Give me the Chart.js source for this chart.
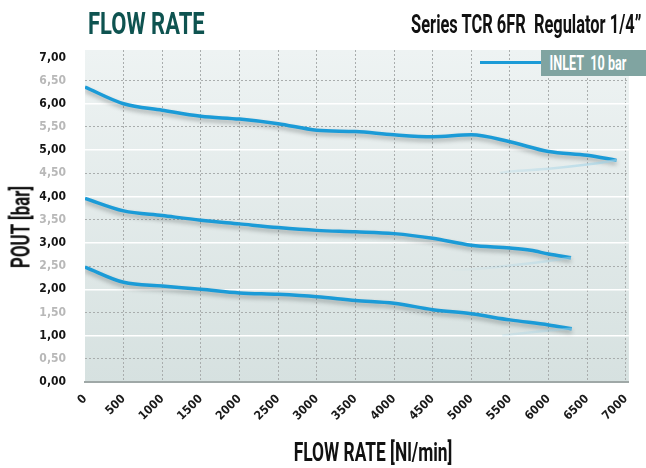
<!DOCTYPE html>
<html lang="en">
<head>
<meta charset="UTF-8">
<title>Flow rate - Series TCR 6FR Regulator 1/4"</title>
<script src="https://cdn.jsdelivr.net/npm/chart.js"></script>
<style>
  html, body { margin: 0; padding: 0; background: #fff; }
  .wrap { position: relative; width: 646px; height: 468px; overflow: hidden; }
  canvas { position: absolute; left: 0; top: 0; }
  .txt { position: absolute; font-family: Roboto, 'DejaVu Sans Condensed', sans-serif; font-weight: bold; white-space: nowrap; }
  #title { left: 88px; top: 8px; font-size: 31px; line-height: 31px; color: #0e5350; transform-origin: left top; }
  #subtitle { right: 5px; top: 12px; font-size: 25px; line-height: 25px; color: #111; transform-origin: right top; }
  #xTitle { left: 373px; top: 452px; font-size: 25px; line-height: 25px; color: #111; }
  #yTitle { left: 21px; top: 227px; font-size: 25px; line-height: 25px; color: #111; }
  #legLine { position: absolute; left: 480px; top: 61px; width: 61px; height: 3px; background: #1b9bd7; }
  #legBox { position: absolute; left: 541px; top: 50px; width: 105px; height: 26px; background: #80a4a1; }
  #legText { left: 588px; top: 63px; font-size: 20px; line-height: 20px; color: #fff; }
</style>
</head>
<body>
<div class="wrap">
  <canvas id="flowChart" width="646" height="468"></canvas>
  <div class="txt" id="title">FLOW RATE</div>
  <div class="txt" id="subtitle">Series TCR 6FR&nbsp; Regulator 1/4”</div>
  <div class="txt" id="xTitle">FLOW RATE [Nl/min]</div>
  <div class="txt" id="yTitle">POUT [bar]</div>
  <div id="legLine"></div>
  <div id="legBox"></div>
  <div class="txt" id="legText">INLET&nbsp; 10 bar</div>
</div>
<script>
// curves (flow in Nl/min, pressure in bar)
const flowTop = [0, 500, 1000, 1500, 2000, 2500, 3000, 3500, 4000, 4500, 5000, 5500, 6000, 6500, 6880];
const poutTop = [6.36, 6.00, 5.86, 5.73, 5.67, 5.57, 5.43, 5.40, 5.33, 5.29, 5.33, 5.18, 4.97, 4.89, 4.78];

const flowMid = [0, 500, 1000, 1500, 2000, 2500, 3000, 3500, 4000, 4500, 5000, 5500, 5770, 6000, 6290];
const poutMid = [3.96, 3.69, 3.59, 3.49, 3.41, 3.33, 3.27, 3.24, 3.20, 3.10, 2.95, 2.89, 2.84, 2.76, 2.68];

const flowLow = [0, 500, 1000, 1500, 2000, 2500, 3000, 3500, 4000, 4500, 5000, 5500, 6000, 6300];
const poutLow = [2.48, 2.15, 2.07, 2.00, 1.92, 1.89, 1.84, 1.76, 1.70, 1.56, 1.47, 1.34, 1.23, 1.15];

// faint return traces
const flowTopBack = [5370, 5500, 6000, 6500, 6880];
const poutTopBack = [4.51, 4.54, 4.60, 4.69, 4.78];
const flowMidBack = [4750, 5000, 5500, 6000, 6290];
const poutMidBack = [2.42, 2.43, 2.51, 2.61, 2.68];
const flowLowBack = [5400, 5500, 6000, 6300];
const poutLowBack = [1.00, 1.02, 1.11, 1.15];

// tick labels
const xTicks = [0, 500, 1000, 1500, 2000, 2500, 3000, 3500, 4000, 4500, 5000, 5500, 6000, 6500, 7000];
const yTicks = [0, 0.5, 1, 1.5, 2, 2.5, 3, 3.5, 4, 4.5, 5, 5.5, 6, 6.5, 7];
const yHalfTicks = [0.5, 1.5, 2.5, 3.5, 4.5, 5.5, 6.5];

const blue = '#1b9bd7';
const tickFont = "'DejaVu Sans Condensed', sans-serif";

// squeeze the html labels to the widths seen in the picture
function fitWidth(id, target, extra) {
    const el = document.getElementById(id);
    const k = target / el.offsetWidth;
    el.style.transform = (extra || '') + ' scaleX(' + k + ')';
}
fitWidth('title', 117);
fitWidth('subtitle', 230);
fitWidth('xTitle', 159, 'translate(-50%, -50%)');
fitWidth('yTitle', 82, 'translate(-50%, -50%) rotate(-90deg)');
fitWidth('legText', 77, 'translate(-50%, -50%)');

function pts(xs, ys) {
    return xs.map((x, i) => ({ x: x, y: ys[i] }));
}

function fadeStroke(context) {
    const chart = context.chart;
    if (!chart.chartArea) return 'rgba(150,205,228,0.4)';
    const xs = chart.scales.x;
    const g = chart.ctx.createLinearGradient(xs.getPixelForValue(4700), 0, xs.getPixelForValue(6900), 0);
    g.addColorStop(0, 'rgba(160,210,230,0)');
    g.addColorStop(1, 'rgba(160,210,230,0.7)');
    return g;
}

function mainSet(xs, ys) {
    return { data: pts(xs, ys), borderColor: blue, borderWidth: 3.5, pointRadius: 0,
             cubicInterpolationMode: 'monotone', shadow: true };
}
function backSet(xs, ys) {
    return { data: pts(xs, ys), borderColor: fadeStroke, borderWidth: 2.5, pointRadius: 0,
             cubicInterpolationMode: 'monotone' };
}

// panel background
const bgPlugin = {
    id: 'panelBg',
    beforeDraw(chart) {
        const a = chart.chartArea, ctx = chart.ctx;
        const g = ctx.createLinearGradient(0, a.top, 0, a.bottom);
        g.addColorStop(0, '#eef3f3');
        g.addColorStop(1, '#d6e1e0');
        ctx.save();
        ctx.fillStyle = g;
        ctx.fillRect(a.left, a.top, a.right - a.left, a.bottom - a.top);
        ctx.restore();
    }
};

// soft drop shadow under the blue curves
const shadowPlugin = {
    id: 'lineShadow',
    beforeDatasetDraw(chart, args) {
        if (!chart.data.datasets[args.index].shadow) return;
        const ctx = chart.ctx;
        ctx.save();
        ctx.shadowColor = 'rgba(40,50,50,0.35)';
        ctx.shadowBlur = 4;
        ctx.shadowOffsetY = 3;
    },
    afterDatasetDraw(chart, args) {
        if (!chart.data.datasets[args.index].shadow) return;
        chart.ctx.restore();
    }
};

new Chart(document.getElementById('flowChart'), {
    type: 'line',
    data: {
        datasets: [
            backSet(flowTopBack, poutTopBack),
            backSet(flowMidBack, poutMidBack),
            backSet(flowLowBack, poutLowBack),
            mainSet(flowTop, poutTop),
            mainSet(flowMid, poutMid),
            mainSet(flowLow, poutLow)
        ]
    },
    options: {
        responsive: false,
        animation: false,
        layout: { padding: { top: 50, right: 1, left: 0, bottom: 0 } },
        plugins: { legend: { display: false }, tooltip: { enabled: false } },
        scales: {
            x: {
                type: 'linear',
                min: 0,
                max: 7040,
                afterBuildTicks(scale) { scale.ticks = xTicks.map(v => ({ value: v })); },
                afterFit(scale) { scale.height = 86; },
                ticks: {
                    autoSkip: false,
                    minRotation: 45,
                    maxRotation: 45,
                    padding: 10,
                    color: '#1a1a1a',
                    font: { family: tickFont, weight: 'bold', size: 12 },
                    callback: v => String(v)
                },
                grid: {
                    drawTicks: false,
                    color: c => (c.tick && c.tick.value === 0) ? 'rgba(0,0,0,0)' : '#a9adad',
                    lineWidth: 1
                },
                border: { display: true, color: '#9fa8a7', width: 2, dash: [2, 2] }
            },
            y: {
                min: 0,
                max: 7.16,
                afterBuildTicks(scale) { scale.ticks = yTicks.map(v => ({ value: v })); },
                afterFit(scale) { scale.width = 85; },
                ticks: {
                    padding: 19,
                    color: c => (c.tick.value % 1 === 0) ? '#151515' : '#b8b8b8',
                    font: { family: tickFont, weight: 'bold', size: 12 },
                    callback: v => v.toFixed(2).replace('.', ',')
                },
                grid: {
                    drawTicks: false,
                    color: c => (c.tick && c.tick.value % 1 === 0 && c.tick.value > 0 && c.tick.value < 7) ? '#ffffff' : 'rgba(0,0,0,0)',
                    lineWidth: 1.5
                },
                border: { display: false }
            },
            yHalf: {
                position: 'left',
                min: 0,
                max: 7.16,
                afterFit(scale) { scale.width = 0; },
                afterBuildTicks(scale) { scale.ticks = yHalfTicks.map(v => ({ value: v })); },
                ticks: { display: false },
                grid: { drawTicks: false, color: '#a9adad', lineWidth: 1 },
                border: { display: false, dash: [2, 2] }
            }
        }
    },
    plugins: [bgPlugin, shadowPlugin]
});
</script>
</body>
</html>
